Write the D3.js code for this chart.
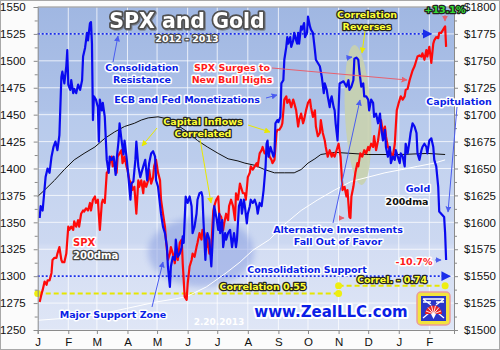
<!DOCTYPE html>
<html>
<head>
<meta charset="UTF-8">
<title>SPX and Gold</title>
<script src="https://cdnjs.cloudflare.com/ajax/libs/d3/7.8.5/d3.min.js"></script>
<style>
  body { margin: 0; background: #fff; }
  text { font-family: "DejaVu Sans", Verdana, sans-serif; font-weight: bold; }
  .axis text { font-family: "Liberation Sans", Arial, sans-serif; font-weight: normal; font-size: 11.5px; fill: #111; }
  .axis path, .axis line { stroke: #8a8a8a; }
</style>
</head>
<body>
<script>
// ---- data ----
var monthLabels = ["J","F","M","A","M","J","J","A","S","O","N","D","J","F"];
var spxTicks = [1250,1275,1300,1325,1350,1375,1400,1425,1450,1475,1500,1525,1550];
var goldTicks = [1500,1525,1550,1575,1600,1625,1650,1675,1700,1725,1750,1775,1800];

// S&P 500 (left axis)
var spxSeries = [
["2012-01-03",1276],["2012-01-05",1284],["2012-01-06",1287],["2012-01-08",1295],["2012-01-10",1292],["2012-01-11",1296],
["2012-01-13",1296],["2012-01-15",1303],["2012-01-16",1315],["2012-01-18",1317],["2012-01-20",1317],["2012-01-21",1321],
["2012-01-23",1327],["2012-01-25",1315],["2012-01-26",1313],["2012-01-28",1313],["2012-01-30",1321],["2012-02-01",1346],
["2012-02-02",1343],["2012-02-04",1346],["2012-02-06",1343],["2012-02-07",1351],["2012-02-09",1346],["2012-02-11",1352],
["2012-02-12",1346],["2012-02-14",1358],["2012-02-16",1361],["2012-02-17",1360],["2012-02-19",1363],["2012-02-21",1361],
["2012-02-23",1368],["2012-02-24",1361],["2012-02-26",1371],["2012-02-28",1374],["2012-02-29",1368],["2012-03-02",1371],
["2012-03-04",1343],["2012-03-06",1368],["2012-03-07",1371],["2012-03-09",1368],["2012-03-11",1396],["2012-03-12",1397],
["2012-03-14",1405],["2012-03-16",1411],["2012-03-17",1402],["2012-03-19",1405],["2012-03-21",1396],["2012-03-22",1411],
["2012-03-24",1414],["2012-03-26",1417],["2012-03-27",1405],["2012-03-29",1411],["2012-03-31",1402],["2012-04-01",1399],
["2012-04-03",1389],["2012-04-05",1386],["2012-04-06",1380],["2012-04-08",1383],["2012-04-10",1358],["2012-04-12",1389],
["2012-04-13",1383],["2012-04-15",1389],["2012-04-17",1377],["2012-04-18",1388],["2012-04-20",1383],["2012-04-22",1389],
["2012-04-23",1399],["2012-04-25",1386],["2012-04-27",1392],["2012-04-28",1402],["2012-04-30",1408],["2012-05-02",1396],
["2012-05-04",1389],["2012-05-05",1371],["2012-05-07",1358],["2012-05-09",1346],["2012-05-10",1334],["2012-05-12",1315],
["2012-05-14",1321],["2012-05-15",1327],["2012-05-17",1321],["2012-05-19",1312],["2012-05-20",1321],["2012-05-22",1315],
["2012-05-24",1331],["2012-05-26",1334],["2012-05-27",1312],["2012-05-29",1281],["2012-05-31",1278],["2012-06-01",1293],
["2012-06-03",1309],["2012-06-05",1315],["2012-06-06",1321],["2012-06-08",1318],["2012-06-10",1327],["2012-06-11",1331],
["2012-06-13",1340],["2012-06-15",1334],["2012-06-16",1343],["2012-06-18",1340],["2012-06-20",1327],["2012-06-21",1334],
["2012-06-23",1321],["2012-06-25",1327],["2012-06-27",1361],["2012-06-28",1365],["2012-06-30",1371],["2012-07-02",1374],
["2012-07-03",1358],["2012-07-05",1355],["2012-07-07",1343],["2012-07-08",1349],["2012-07-10",1358],["2012-07-12",1352],
["2012-07-13",1365],["2012-07-15",1371],["2012-07-17",1365],["2012-07-19",1352],["2012-07-20",1377],["2012-07-22",1371],
["2012-07-24",1386],["2012-07-25",1383],["2012-07-27",1377],["2012-07-29",1377],["2012-07-30",1371],["2012-08-01",1392],
["2012-08-03",1396],["2012-08-04",1402],["2012-08-06",1399],["2012-08-08",1402],["2012-08-10",1405],["2012-08-11",1402],
["2012-08-13",1414],["2012-08-15",1417],["2012-08-16",1420],["2012-08-18",1414],["2012-08-20",1414],["2012-08-21",1420],
["2012-08-23",1411],["2012-08-25",1408],["2012-08-26",1405],["2012-08-28",1408],["2012-08-30",1433],["2012-08-31",1436],
["2012-09-02",1436],["2012-09-04",1439],["2012-09-05",1442],["2012-09-07",1464],["2012-09-09",1467],["2012-09-10",1461],
["2012-09-12",1464],["2012-09-14",1457],["2012-09-16",1464],["2012-09-17",1461],["2012-09-19",1454],["2012-09-21",1439],
["2012-09-22",1445],["2012-09-24",1451],["2012-09-26",1442],["2012-09-27",1445],["2012-09-29",1454],["2012-10-01",1461],
["2012-10-03",1464],["2012-10-04",1457],["2012-10-06",1448],["2012-10-08",1454],["2012-10-09",1439],["2012-10-11",1430],
["2012-10-13",1433],["2012-10-14",1445],["2012-10-16",1433],["2012-10-18",1426],["2012-10-19",1420],["2012-10-21",1411],
["2012-10-23",1417],["2012-10-25",1411],["2012-10-26",1414],["2012-10-28",1411],["2012-10-30",1417],["2012-11-01",1423],
["2012-11-03",1411],["2012-11-04",1396],["2012-11-05",1380],["2012-11-07",1383],["2012-11-09",1374],["2012-11-10",1380],
["2012-11-12",1355],["2012-11-13",1354],["2012-11-14",1374],["2012-11-16",1383],["2012-11-18",1396],["2012-11-20",1405],
["2012-11-21",1402],["2012-11-23",1414],["2012-11-25",1411],["2012-11-27",1417],["2012-11-29",1414],["2012-12-01",1420],
["2012-12-02",1417],["2012-12-04",1423],["2012-12-06",1420],["2012-12-07",1430],["2012-12-09",1417],["2012-12-11",1426],
["2012-12-13",1439],["2012-12-14",1445],["2012-12-16",1433],["2012-12-18",1439],["2012-12-19",1430],["2012-12-21",1420],
["2012-12-23",1417],["2012-12-24",1414],["2012-12-26",1411],["2012-12-28",1423],["2012-12-29",1439],["2012-12-30",1454],
["2013-01-01",1461],["2013-01-02",1464],["2013-01-03",1467],["2013-01-05",1464],["2013-01-07",1467],["2013-01-08",1473],
["2013-01-10",1474],["2013-01-12",1482],["2013-01-13",1485],["2013-01-15",1491],["2013-01-17",1495],["2013-01-19",1501],
["2013-01-20",1504],["2013-01-22",1505],["2013-01-24",1504],["2013-01-25",1507],["2013-01-27",1501],["2013-01-29",1510],
["2013-01-30",1504],["2013-02-01",1513],["2013-02-03",1498],["2013-02-05",1516],["2013-02-06",1519],["2013-02-08",1522],
["2013-02-10",1521],["2013-02-11",1526],["2013-02-13",1526],["2013-02-15",1529],["2013-02-17",1532],["2013-02-18",1513]
];

// Gold (right axis)
var goldSeries = [
["2012-01-03",1604],["2012-01-04",1615],["2012-01-06",1611],["2012-01-09",1642],["2012-01-11",1650],["2012-01-13",1646],
["2012-01-15",1661],["2012-01-17",1670],["2012-01-19",1675],["2012-01-21",1667],["2012-01-23",1681],["2012-01-25",1735],
["2012-01-26",1740],["2012-01-28",1729],["2012-01-30",1745],["2012-01-31",1760],["2012-02-01",1728],["2012-02-03",1723],
["2012-02-04",1732],["2012-02-06",1720],["2012-02-07",1724],["2012-02-09",1720],["2012-02-11",1728],["2012-02-13",1723],
["2012-02-15",1732],["2012-02-16",1754],["2012-02-18",1762],["2012-02-20",1776],["2012-02-21",1769],["2012-02-23",1785],
["2012-02-24",1786],["2012-02-25",1766],["2012-02-26",1695],["2012-02-27",1717],["2012-02-29",1714],["2012-03-02",1707],
["2012-03-03",1675],["2012-03-04",1714],["2012-03-06",1704],["2012-03-07",1711],["2012-03-09",1698],["2012-03-11",1658],
["2012-03-13",1646],["2012-03-14",1661],["2012-03-16",1658],["2012-03-18",1661],["2012-03-20",1644],["2012-03-21",1658],
["2012-03-23",1676],["2012-03-24",1692],["2012-03-26",1676],["2012-03-28",1663],["2012-03-29",1676],["2012-03-31",1661],
["2012-04-02",1642],["2012-04-04",1621],["2012-04-05",1636],["2012-04-07",1638],["2012-04-09",1658],["2012-04-10",1675],
["2012-04-12",1652],["2012-04-14",1642],["2012-04-17",1652],["2012-04-19",1658],["2012-04-21",1639],["2012-04-23",1655],
["2012-04-25",1664],["2012-04-27",1666],["2012-04-29",1661],["2012-04-30",1639],["2012-05-02",1633],["2012-05-05",1608],
["2012-05-07",1596],["2012-05-09",1590],["2012-05-11",1577],["2012-05-12",1559],["2012-05-14",1540],["2012-05-15",1559],
["2012-05-17",1568],["2012-05-19",1565],["2012-05-20",1584],["2012-05-22",1568],["2012-05-24",1571],["2012-05-26",1577],
["2012-05-27",1587],["2012-05-28",1581],["2012-05-30",1624],["2012-05-31",1621],["2012-06-01",1618],["2012-06-03",1624],
["2012-06-05",1615],["2012-06-06",1590],["2012-06-08",1596],["2012-06-10",1608],["2012-06-11",1621],["2012-06-13",1627],
["2012-06-15",1628],["2012-06-16",1624],["2012-06-17",1602],["2012-06-19",1565],["2012-06-20",1584],["2012-06-21",1590],
["2012-06-23",1584],["2012-06-25",1559],["2012-06-26",1577],["2012-06-28",1615],["2012-06-30",1605],["2012-07-02",1593],
["2012-07-03",1608],["2012-07-04",1590],["2012-07-06",1602],["2012-07-07",1577],["2012-07-09",1590],["2012-07-10",1584],
["2012-07-12",1590],["2012-07-14",1593],["2012-07-16",1577],["2012-07-18",1590],["2012-07-20",1577],["2012-07-21",1584],
["2012-07-23",1615],["2012-07-25",1621],["2012-07-26",1608],["2012-07-28",1621],["2012-07-29",1615],["2012-07-31",1599],
["2012-08-01",1608],["2012-08-03",1615],["2012-08-04",1621],["2012-08-06",1618],["2012-08-08",1621],["2012-08-10",1615],
["2012-08-11",1608],["2012-08-13",1618],["2012-08-15",1615],["2012-08-17",1630],["2012-08-19",1652],["2012-08-20",1673],
["2012-08-21",1676],["2012-08-22",1661],["2012-08-24",1670],["2012-08-25",1667],["2012-08-27",1661],["2012-08-28",1664],
["2012-08-29",1692],["2012-08-31",1695],["2012-09-01",1693],["2012-09-03",1698],["2012-09-04",1729],["2012-09-06",1732],
["2012-09-07",1751],["2012-09-09",1763],["2012-09-10",1772],["2012-09-11",1766],["2012-09-13",1772],["2012-09-14",1763],
["2012-09-16",1769],["2012-09-17",1776],["2012-09-19",1769],["2012-09-20",1766],["2012-09-21",1776],["2012-09-22",1766],
["2012-09-24",1782],["2012-09-25",1779],["2012-09-27",1785],["2012-09-28",1772],["2012-09-30",1776],["2012-10-01",1791],
["2012-10-03",1782],["2012-10-04",1779],["2012-10-06",1776],["2012-10-08",1760],["2012-10-09",1751],["2012-10-11",1748],
["2012-10-13",1745],["2012-10-15",1735],["2012-10-17",1720],["2012-10-18",1729],["2012-10-20",1723],["2012-10-21",1717],
["2012-10-23",1707],["2012-10-24",1714],["2012-10-25",1717],["2012-10-27",1707],["2012-10-28",1704],["2012-10-29",1692],
["2012-10-31",1676],["2012-11-01",1704],["2012-11-02",1729],["2012-11-06",1731],["2012-11-09",1726],["2012-11-11",1732],
["2012-11-12",1723],["2012-11-14",1726],["2012-11-16",1732],["2012-11-17",1752],["2012-11-19",1753],["2012-11-21",1751],
["2012-11-22",1741],["2012-11-24",1726],["2012-11-26",1729],["2012-11-27",1717],["2012-11-29",1717],["2012-12-01",1714],
["2012-12-02",1704],["2012-12-04",1714],["2012-12-06",1711],["2012-12-07",1698],["2012-12-09",1701],["2012-12-11",1692],
["2012-12-13",1701],["2012-12-14",1689],["2012-12-16",1676],["2012-12-18",1686],["2012-12-19",1670],["2012-12-21",1661],
["2012-12-23",1670],["2012-12-24",1655],["2012-12-26",1661],["2012-12-28",1658],["2012-12-29",1667],["2012-12-31",1661],
["2013-01-02",1655],["2013-01-03",1664],["2013-01-05",1661],["2013-01-07",1652],["2013-01-08",1673],["2013-01-10",1664],
["2013-01-12",1676],["2013-01-13",1683],["2013-01-15",1692],["2013-01-17",1689],["2013-01-19",1683],["2013-01-20",1664],
["2013-01-22",1658],["2013-01-24",1667],["2013-01-25",1670],["2013-01-27",1673],["2013-01-29",1670],["2013-01-30",1664],
["2013-02-01",1676],["2013-02-03",1678],["2013-02-05",1670],["2013-02-06",1658],["2013-02-08",1652],["2013-02-10",1633],
["2013-02-11",1610],["2013-02-13",1608],["2013-02-16",1605],["2013-02-17",1590],["2013-02-18",1565]
];

// 200-day moving averages
var spx200dma = [
["2012-01-01",1259],["2012-01-30",1261],["2012-02-29",1264],["2012-03-31",1270],["2012-04-30",1276],["2012-05-20",1279],
["2012-05-31",1281],["2012-06-20",1290],["2012-07-10",1303],["2012-07-24",1313],["2012-08-06",1324],["2012-08-23",1334],
["2012-09-07",1348],["2012-09-24",1361],["2012-10-11",1371],["2012-10-28",1380],["2012-11-14",1388],["2012-12-01",1392],
["2012-12-18",1396],["2013-01-04",1399],["2013-01-20",1402],["2013-02-06",1405],["2013-02-17",1408]
];
var gold200dma = [
["2012-01-01",1624],["2012-01-08",1630],["2012-01-18",1639],["2012-01-28",1649],["2012-02-07",1658],["2012-02-17",1664],
["2012-02-28",1670],["2012-03-09",1678],["2012-03-19",1684],["2012-03-29",1689],["2012-04-08",1692],["2012-04-15",1695],
["2012-04-22",1697],["2012-05-02",1698],["2012-05-12",1696],["2012-05-22",1690],["2012-06-01",1684],["2012-06-11",1676],
["2012-06-21",1670],["2012-07-02",1664],["2012-07-12",1659],["2012-07-22",1657],["2012-07-29",1655],["2012-08-08",1653],
["2012-08-18",1649],["2012-08-28",1646],["2012-09-07",1646],["2012-09-17",1646],["2012-09-24",1649],["2012-10-01",1655],
["2012-10-08",1659],["2012-10-14",1663],["2012-10-21",1664],["2012-10-28",1665],["2012-12-01",1663],["2013-01-03",1663],
["2013-01-30",1664],["2013-02-17",1663]
];

// ---- layout ----
var width = 500, height = 350;
var margin = {left: 37.7, right: 46, top: 7, bottom: 20};
var parse = d3.timeParse("%Y-%m-%d");

var svg = d3.select("body").append("svg")
    .attr("width", width)
    .attr("height", height);

var x = d3.scaleTime()
    .domain([parse("2012-01-01"), parse("2013-02-26")])
    .range([margin.left, width - margin.right]);
var yL = d3.scaleLinear().domain([1250, 1550]).range([height - margin.bottom, margin.top]);
var yR = d3.scaleLinear().domain([1500, 1800]).range([height - margin.bottom, margin.top]);

var defs = svg.append("defs");
var bg = defs.append("linearGradient").attr("id", "bg").attr("x1", 0).attr("x2", 0).attr("y1", 0).attr("y2", 1);
[[0, "#a0b7e2"], [0.32, "#aec2e8"], [0.33, "#b7caec"], [0.48, "#bccdec"], [0.49, "#c4d3ef"],
 [0.73, "#ccd8f1"], [0.74, "#d3ddf3"], [1, "#dfe6f6"]].forEach(function (s) {
    bg.append("stop").attr("offset", s[0]).attr("stop-color", s[1]);
});
defs.append("filter").attr("id", "blur").append("feGaussianBlur").attr("stdDeviation", 3);
defs.append("filter").attr("id", "shadow").append("feDropShadow")
    .attr("dx", 1).attr("dy", 1).attr("stdDeviation", 0.6).attr("flood-color", "#666").attr("flood-opacity", 0.6);

function marker(id, color) {
    defs.append("marker").attr("id", id).attr("viewBox", "0 0 10 10")
        .attr("refX", 9).attr("refY", 5).attr("markerWidth", 6).attr("markerHeight", 6)
        .attr("orient", "auto").append("path").attr("d", "M0,0L10,5L0,10z").attr("fill", color);
}
marker("aBlue", "#4a5cf0");
marker("aDark", "#1a2eea");
marker("aYel", "#e8e800");
marker("aRed", "#e8606e");

// outer frame
svg.append("rect").attr("x", 0.5).attr("y", 0.5).attr("width", width - 1).attr("height", height - 1)
    .attr("fill", "#fbfbfb").attr("stroke", "#a8a8a8");

var pw = x.range()[1] - x.range()[0], ph = yL.range()[0] - yL.range()[1];
svg.append("rect").attr("x", margin.left).attr("y", margin.top).attr("width", pw).attr("height", ph)
    .attr("fill", "url(#bg)");

// grid
svg.append("g").selectAll("line").data(spxTicks).enter().append("line")
    .attr("x1", margin.left).attr("x2", x.range()[1])
    .attr("y1", function (d) { return yL(d); }).attr("y2", function (d) { return yL(d); })
    .attr("stroke", "#fff").attr("stroke-opacity", 0.75);
var months = d3.timeMonth.range(parse("2012-01-01"), parse("2013-02-26"));
svg.append("g").selectAll("line").data(months).enter().append("line")
    .attr("x1", function (d) { return x(d); }).attr("x2", function (d) { return x(d); })
    .attr("y1", margin.top).attr("y2", yL.range()[0])
    .attr("stroke", "#fff").attr("stroke-opacity", 0.75);

// highlight ellipses
svg.append("ellipse").attr("cx", 201).attr("cy", 252).attr("rx", 53).attr("ry", 35)
    .attr("fill", "#7c93de").attr("opacity", 0.45).attr("filter", "url(#blur)");
svg.append("ellipse").attr("cx", 358).attr("cy", 115).attr("rx", 13).attr("ry", 70)
    .attr("transform", "rotate(-3,358,115)")
    .attr("fill", "#c8d2ad").attr("opacity", 0.88);

// reference lines
function hline(v, x0, x1, color, dash, w, mk) {
    var l = svg.append("line").attr("x1", x0).attr("x2", x1).attr("y1", yL(v)).attr("y2", yL(v))
        .attr("stroke", color).attr("stroke-width", w).attr("stroke-dasharray", dash);
    if (mk) l.attr("marker-end", "url(#" + mk + ")");
}
hline(1525, margin.left, x(parse("2013-02-03")), "#1a2eea", "2,2", 1.6, "aDark");
hline(1300, margin.left, x(parse("2013-02-22")), "#1a2eea", "2,2", 1.6, "aDark");
hline(1284, margin.left, x(parse("2012-11-01")), "#e6e600", "5,3", 2);
hline(1291, x(parse("2012-11-01")), x(parse("2013-02-17")), "#e6e600", "5,3", 2);
[[parse("2012-01-01"), 1284], [parse("2012-11-01"), 1284], [parse("2012-11-01"), 1291], [parse("2013-02-17"), 1291]]
    .forEach(function (p) {
        svg.append("circle").attr("cx", x(p[0])).attr("cy", yL(p[1])).attr("r", 3.5).attr("fill", "#eeee10");
    });

// series
function drawLine(series, y, color, w) {
    var line = d3.line().x(function (d) { return x(parse(d[0])); }).y(function (d) { return y(d[1]); });
    svg.append("path").datum(series).attr("d", line).attr("fill", "none")
        .attr("stroke", color).attr("stroke-width", w).attr("stroke-linejoin", "round");
}
drawLine(spx200dma, yL, "#ffffff", 1);
drawLine(gold200dma, yR, "#111111", 1);
drawLine(spxSeries, yL, "#ff0a0a", 2.2);
drawLine(goldSeries, yR, "#0a0af0", 2.2);

// axes
svg.append("g").attr("class", "axis").attr("transform", "translate(" + margin.left + ",0)")
    .call(d3.axisLeft(yL).tickValues(spxTicks).tickSize(4).tickPadding(8).tickFormat(d3.format("d")));
svg.append("g").attr("class", "axis").attr("transform", "translate(" + margin.left + ",0)")
    .call(d3.axisLeft(yL).tickValues(spxTicks.slice(1).map(function (d) { return d - 12.5; })).tickSize(3).tickFormat(""))
    .select(".domain").remove();
svg.append("g").attr("class", "axis").attr("transform", "translate(" + x.range()[1] + ",0)")
    .call(d3.axisRight(yR).tickValues(goldTicks).tickSize(4).tickPadding(6).tickFormat(function (d) { return "$" + d; }));
svg.append("g").attr("class", "axis").attr("transform", "translate(" + x.range()[1] + ",0)")
    .call(d3.axisRight(yR).tickValues(goldTicks.slice(1).map(function (d) { return d - 12.5; })).tickSize(3).tickFormat(""))
    .select(".domain").remove();
svg.append("g").attr("class", "axis").attr("transform", "translate(0," + yL.range()[0] + ")")
    .call(d3.axisBottom(x).tickValues(months).tickSize(4).tickPadding(4)
        .tickFormat(function (d, i) { return monthLabels[i]; }));
svg.append("line").attr("x1", margin.left).attr("x2", x.range()[1]).attr("y1", margin.top).attr("y2", margin.top)
    .attr("stroke", "#8a8a8a");

// arrows
function arrow(x1, y1, x2, y2, color, mk) {
    svg.append("line").attr("x1", x1).attr("y1", y1).attr("x2", x2).attr("y2", y2)
        .attr("stroke", color).attr("stroke-width", 1).attr("marker-end", "url(#" + mk + ")");
}
arrow(113, 62, 118, 36, "#4a5cf0", "aBlue");
arrow(157, 128, 142, 146, "#e8e800", "aYel");
arrow(200, 139, 211, 203, "#e8e800", "aYel");
arrow(248, 125, 270, 132, "#e8e800", "aYel");
arrow(266, 98, 277, 95, "#4a5cf0", "aBlue");
arrow(272, 68, 407, 80, "#e8606e", "aRed");
arrow(365, 31, 362, 53, "#e8e800", "aYel");
arrow(333, 223, 360, 100, "#4a5cf0", "aBlue");
arrow(457, 107, 448, 212, "#4a5cf0", "aBlue");
arrow(152, 307, 163, 262, "#4a5cf0", "aBlue");
arrow(346, 58, 352, 57, "#4a5cf0", "aBlue");
arrow(339, 218, 344, 218, "#e8606e", "aRed");
arrow(445, 15, 445, 21, "#e8606e", "aRed");
arrow(435, 260, 441, 260, "#4a5cf0", "aBlue");

// labels
function label(t, px, py, fill, stroke, size, sw, anchor) {
    return svg.append("text").attr("x", px).attr("y", py).attr("text-anchor", anchor || "middle")
        .attr("font-size", size).attr("fill", fill).attr("stroke", stroke).attr("stroke-width", sw)
        .attr("stroke-linejoin", "round").attr("paint-order", "stroke").text(t);
}
var BLUE = "#0a1ee6", RED = "#ff1a1a", YEL = "#ffff33";
label("SPX and Gold", 187, 28, "#ffffff", "#505050", 20.5, 3.5).attr("filter", "url(#shadow)");
label("2012 - 2013", 187, 42, "#ffffff", "#505050", 9.5, 2.5);
label("Consolidation", 142, 71, BLUE, "#fff", 9.5, 3);
label("Resistance", 142, 83, BLUE, "#fff", 9.5, 3);
label("SPX Surges to", 232, 71, RED, "#fff", 9.5, 3);
label("New Bull Highs", 232, 83, RED, "#fff", 9.5, 3);
label("ECB and Fed Monetizations", 187, 103, BLUE, "#fff", 9.5, 3);
label("Capital Inflows", 203, 125, YEL, "#222", 9.5, 2.5);
label("Correlated", 203, 137, YEL, "#222", 9.5, 2.5);
label("Correlation", 367, 18, YEL, "#222", 9.5, 2.5);
label("Reverses", 367, 30, YEL, "#222", 9.5, 2.5);
label("+13.1%", 445, 13, "#33dd33", "#222", 9.5, 2.5);
label("Capitulation", 459, 105, BLUE, "#fff", 9.5, 3);
label("Gold", 418, 192, BLUE, "#fff", 9.5, 3);
label("200dma", 407, 205, "#111", "#fff", 9.5, 3);
label("Alternative Investments", 338, 233, BLUE, "#fff", 9.5, 3);
label("Fall Out of Favor", 338, 245, BLUE, "#fff", 9.5, 3);
label("-10.7%", 414, 265, RED, "#fff", 9.5, 3);
label("Consolidation Support", 307, 273, BLUE, "#fff", 9.5, 3);
label("Correl. - 0.74", 392, 283, YEL, "#222", 9.5, 2.5);
label("Correlation 0.55", 263, 290, YEL, "#222", 9.5, 2.5);
label("www.ZealLLC.com", 331, 317, BLUE, "#fff", 15, 4);
label("Major Support Zone", 113, 318, BLUE, "#fff", 9.5, 3);
label("2.20.2013", 219, 325, "#ffffff", "none", 9, 0);
label("SPX", 73, 246, RED, "#fff", 10, 3, "start");
label("200dma", 73, 259, "#ffffff", "#444", 10, 2.5, "start");

// logo
var logo = svg.append("g").attr("transform", "translate(417,292)");
logo.append("rect").attr("width", 33).attr("height", 33).attr("rx", 4)
    .attr("fill", "#f2e33e").attr("stroke", "#ea9c9c").attr("stroke-width", 1.5);
logo.append("rect").attr("x", 4).attr("y", 4).attr("width", 25).attr("height", 25).attr("fill", "#2a36c8");
logo.append("path").attr("d", "M6,7H27M6,10H14M19,10H27M6,7L14,13M27,7L19,13M6,26L12,21M27,26L21,21")
    .attr("stroke", "#fff").attr("stroke-width", 1.3).attr("fill", "none");
logo.append("path").attr("d", "M8,22A8.5,8.5 0 0 1 25,22Z").attr("fill", "#e82222");
logo.append("path").attr("d", "M16.5,22L9,19M16.5,22L11,15.5M16.5,22L14.5,13.7M16.5,22L18.5,13.7M16.5,22L22,15.5M16.5,22L24,19")
    .attr("stroke", "#fff").attr("stroke-width", 0.9);
logo.append("path").attr("d", "M14,22L16.5,27L19,22Z").attr("fill", "#fff");
</script>
</body>
</html>
